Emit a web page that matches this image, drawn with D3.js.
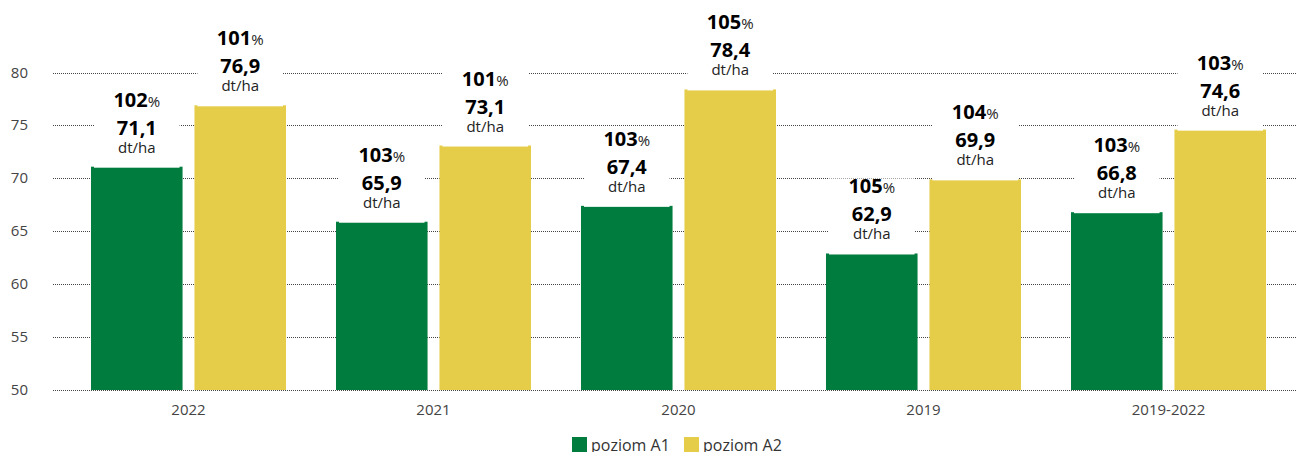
<!DOCTYPE html>
<html>
<head>
<meta charset="utf-8">
<script src="https://cdn.jsdelivr.net/npm/d3@7"></script>
<style>
  body { margin: 0; background: #fff; }
  svg { display: block; font-family: "Open Sans", sans-serif; }
</style>
</head>
<body>
<div id="chart"></div>
<script>
// data
let categories = ["2022", "2021", "2020", "2019", "2019-2022"];
let seriesNames = ["poziom A1", "poziom A2"];
let valuesA1 = [71.1, 65.9, 67.4, 62.9, 66.8];
let valuesA2 = [76.9, 73.1, 78.4, 69.9, 74.6];
let pctA1 = [102, 103, 103, 105, 103];
let pctA2 = [101, 101, 105, 104, 103];
let yTicks = [50, 55, 60, 65, 70, 75, 80];
let colors = ["#007c3f", "#e5cd4a"];

let width = 1296, height = 452;

let svg = d3.select("#chart")
  .append("svg")
  .attr("width", width)
  .attr("height", height);

// scales
let x = d3.scaleBand()
  .domain(categories)
  .range([66, 1291])
  .paddingInner(0.204)
  .paddingOuter(0.102);

let xSub = d3.scaleBand()
  .domain(seriesNames)
  .range([0, x.bandwidth()])
  .paddingInner(0.115);

let y = d3.scaleLinear().domain([50, 80]).range([390, 72.5]);

// gridlines
svg.append("g")
  .selectAll("line")
  .data(yTicks)
  .join("line")
  .attr("x1", 53)
  .attr("x2", width)
  .attr("y1", d => Math.round(y(d)) + 0.5)
  .attr("y2", d => Math.round(y(d)) + 0.5)
  .attr("stroke", "#444")
  .attr("stroke-width", 1)
  .attr("stroke-dasharray", "1,1");

// y labels
svg.append("g")
  .selectAll("text")
  .data(yTicks)
  .join("text")
  .attr("x", 28)
  .attr("y", d => y(d) + 5)
  .attr("text-anchor", "end")
  .attr("font-size", 15)
  .attr("fill", "#444")
  .text(d => d);

// bars data
let bars = [];
categories.forEach(function (c, i) {
  bars.push({ cat: c, s: seriesNames[0], v: valuesA1[i], p: pctA1[i], color: colors[0] });
  bars.push({ cat: c, s: seriesNames[1], v: valuesA2[i], p: pctA2[i], color: colors[1] });
});

let fmt = d3.formatLocale({ decimal: ",", thousands: " ", grouping: [3], currency: ["", ""] }).format(".1f");

let g = svg.append("g")
  .selectAll("g")
  .data(bars)
  .join("g")
  .attr("transform", d => "translate(" + (x(d.cat) + xSub(d.s)) + ",0)");

g.append("rect")
  .attr("x", 0)
  .attr("y", d => y(d.v))
  .attr("width", xSub.bandwidth())
  .attr("height", d => y(50) - y(d.v))
  .attr("fill", d => d.color);

// white box behind labels
g.append("rect")
  .attr("x", 3)
  .attr("y", d => y(d.v) - 75)
  .attr("width", xSub.bandwidth() - 6)
  .attr("height", 76)
  .attr("fill", "#fff");

let cx = xSub.bandwidth() / 2;

let pctText = g.append("text")
  .attr("x", cx)
  .attr("y", d => y(d.v) - 60)
  .attr("text-anchor", "middle")
  .attr("fill", "#000");
pctText.append("tspan")
  .attr("font-size", 20)
  .attr("font-weight", "bold")
  .text(d => d.p);
pctText.append("tspan")
  .attr("font-size", 15)
  .attr("fill", "#222")
  .text("%");

g.append("text")
  .attr("x", cx)
  .attr("y", d => y(d.v) - 32)
  .attr("text-anchor", "middle")
  .attr("font-size", 20)
  .attr("font-weight", "bold")
  .attr("fill", "#000")
  .text(d => fmt(d.v));

g.append("text")
  .attr("x", cx)
  .attr("y", d => y(d.v) - 14)
  .attr("text-anchor", "middle")
  .attr("font-size", 15)
  .attr("fill", "#222")
  .text("dt/ha");

// x labels
svg.append("g")
  .selectAll("text")
  .data(categories)
  .join("text")
  .attr("x", d => x(d) + x.bandwidth() / 2)
  .attr("y", 415)
  .attr("text-anchor", "middle")
  .attr("font-size", 15)
  .attr("fill", "#444")
  .text(d => d);

// legend
let legendX = [572, 684];
let legend = svg.append("g")
  .selectAll("g")
  .data(seriesNames)
  .join("g")
  .attr("transform", (d, i) => "translate(" + legendX[i] + ",437)");
legend.append("rect")
  .attr("width", 15)
  .attr("height", 15)
  .attr("fill", (d, i) => colors[i]);
legend.append("text")
  .attr("x", 19)
  .attr("y", 14)
  .attr("font-size", 16)
  .attr("fill", "#333")
  .text(d => d);
</script>
</body>
</html>
